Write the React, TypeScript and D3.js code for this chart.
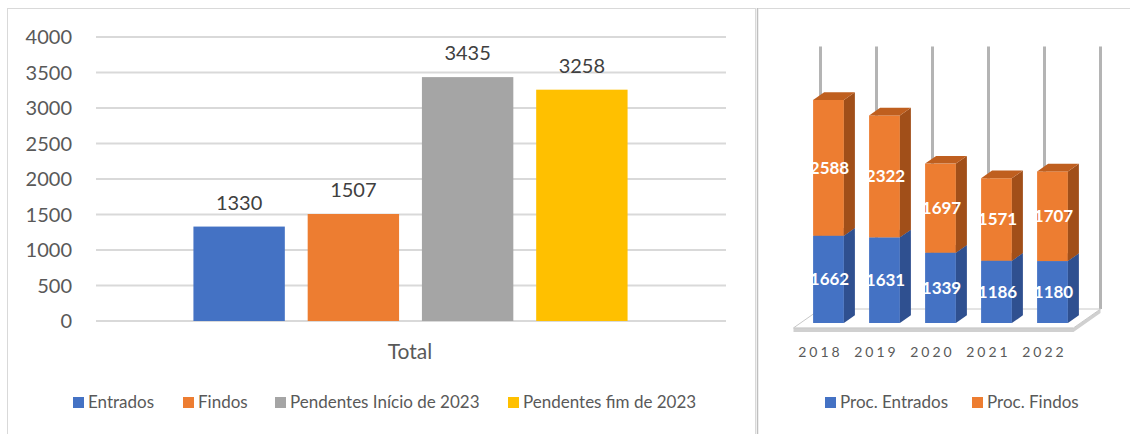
import React from 'react';
import * as d3 from 'd3';

// left chart: totals for 2023
const series = ['Entrados', 'Findos', 'Pendentes Início de 2023', 'Pendentes fim de 2023'];
const totals = [1330, 1507, 3435, 3258];
const colors = ['#4472C4', '#ED7D31', '#A5A5A5', '#FFC000'];
const yTicks = [0, 500, 1000, 1500, 2000, 2500, 3000, 3500, 4000];

// right chart: yearly stacked
const years = ['2018', '2019', '2020', '2021', '2022'];
const entrados = [1662, 1631, 1339, 1186, 1180];
const findos = [2588, 2322, 1697, 1571, 1707];

const W = 1130;
const H = 434;
const FONT = 'Lato, "Noto Sans", sans-serif';

const LeftChart = () => {
  const y = d3.scaleLinear().domain([0, 4000]).range([321, 37]);
  const x = d3.scaleBand<string>().domain(series).range([182, 639]).paddingInner(0.2).paddingOuter(0.1);
  const legendX = [73, 183, 275, 508];

  return (
    <g>
      <rect x={7.5} y={8.5} width={748} height={440} fill="#fff" stroke="#d9d9d9" />
      {yTicks.map(t => (
        <g key={t}>
          <line x1={96} x2={726} y1={y(t)} y2={y(t)} stroke="#d9d9d9" strokeWidth={2} />
          <text x={72} y={y(t)} dy="0.35em" textAnchor="end" fontSize={20} fill="#595959" fontFamily={FONT}>{t}</text>
        </g>
      ))}
      {series.map((s, i) => (
        <g key={s}>
          <rect x={x(s)} y={y(totals[i])} width={x.bandwidth()} height={y(0) - y(totals[i])} fill={colors[i]} />
          <text x={(x(s) as number) + x.bandwidth() / 2} y={y(totals[i]) - 17} textAnchor="middle" fontSize={20} fill="#404040" fontFamily={FONT}>{totals[i]}</text>
        </g>
      ))}
      <text x={410} y={359} textAnchor="middle" fontSize={21} fill="#595959" fontFamily={FONT}>Total</text>
      {series.map((s, i) => (
        <g key={'lg' + s}>
          <rect x={legendX[i]} y={397} width={11} height={11} fill={colors[i]} />
          <text x={legendX[i] + 15} y={408} fontSize={17} fill="#595959" fontFamily={FONT}>{s}</text>
        </g>
      ))}
    </g>
  );
};

const RightChart = () => {
  const x = d3.scaleBand<string>().domain(years).range([800.5, 1080.5]).paddingInner(0.45).paddingOuter(0.225);
  const y = d3.scaleLinear().domain([0, 5000]).range([323, 60.5]);
  // oblique projection for depth
  const DX = 20;
  const DY = -14;
  const p = (px: number, py: number, z: number) => `${px + z * DX},${py + z * DY}`;
  const step = x.step();
  const x0 = x.range()[0];
  const x1 = x.range()[1];
  const bars = [
    { vals: entrados, base: years.map(() => 0), front: '#4472C4', side: '#2F5090', top: '#3B63AB' },
    { vals: findos, base: entrados, front: '#ED7D31', side: '#A14F19', top: '#BF5F1F' },
  ];
  const zb = 0.55;

  return (
    <g>
      <line x1={757.5} x2={757.5} y1={8} y2={H} stroke="#bfbfbf" strokeWidth={1.5} />
      <line x1={758} x2={W} y1={8.5} y2={8.5} stroke="#d9d9d9" />
      {/* back vertical gridlines */}
      {d3.range(years.length + 1).map(i => {
        const gx = x0 + i * step + DX;
        return <line key={i} x1={gx} x2={gx} y1={y(5000) + DY} y2={y(0) + DY} stroke="#b4b4b4" strokeWidth={3} />;
      })}
      {/* floor with thickness */}
      <polygon
        points={[p(x0, 323, -0.35), p(x1, 323, -0.35), p(x1, 323, 1), p(x1, 327, 1), p(x1, 327, -0.35), p(x0, 327, -0.35)].join(' ')}
        fill="#d0d0d0"
      />
      <polygon
        points={[p(x0, 323, -0.35), p(x1, 323, -0.35), p(x1, 323, 1), p(x0, 323, 1)].join(' ')}
        fill="#fff" stroke="#c8c8c8" strokeWidth={1}
      />
      {years.map((yr, i) => {
        const bx = x(yr) as number;
        const bw = x.bandwidth();
        return (
          <g key={yr}>
            {bars.map((b, k) => {
              const lo = y(b.base[i]);
              const hi = y(b.base[i] + b.vals[i]);
              return (
                <g key={k}>
                  <rect x={bx} y={hi} width={bw} height={lo - hi} fill={b.front} />
                  <polygon points={[p(bx + bw, lo, 0), p(bx + bw, lo, zb), p(bx + bw, hi, zb), p(bx + bw, hi, 0)].join(' ')} fill={b.side} />
                  <polygon points={[p(bx, hi, 0), p(bx + bw, hi, 0), p(bx + bw, hi, zb), p(bx, hi, zb)].join(' ')} fill={b.top} />
                </g>
              );
            })}
            {bars.map((b, k) => (
              <text key={'t' + k} x={bx + bw / 2 + 1} y={(y(b.base[i]) + y(b.base[i] + b.vals[i])) / 2} dy="0.35em"
                textAnchor="middle" fontSize={17} fontWeight="bold" fill="#fff" fontFamily={FONT}>{b.vals[i]}</text>
            ))}
            <text x={bx + bw / 2 - 8} y={357} textAnchor="middle" fontSize={14} letterSpacing={3} fill="#595959" fontFamily={FONT}>{yr}</text>
          </g>
        );
      })}
      <rect x={825} y={397} width={11} height={11} fill="#4472C4" />
      <text x={840} y={408} fontSize={17} fill="#595959" fontFamily={FONT}>Proc. Entrados</text>
      <rect x={972} y={397} width={11} height={11} fill="#ED7D31" />
      <text x={987} y={408} fontSize={17} fill="#595959" fontFamily={FONT}>Proc. Findos</text>
    </g>
  );
};

export default function App() {
  return (
    <svg width={W} height={H} style={{ position: 'absolute', left: 0, top: 0, background: '#fff' }}>
      <rect width={W} height={H} fill="#fff" />
      <LeftChart />
      <RightChart />
    </svg>
  );
}
